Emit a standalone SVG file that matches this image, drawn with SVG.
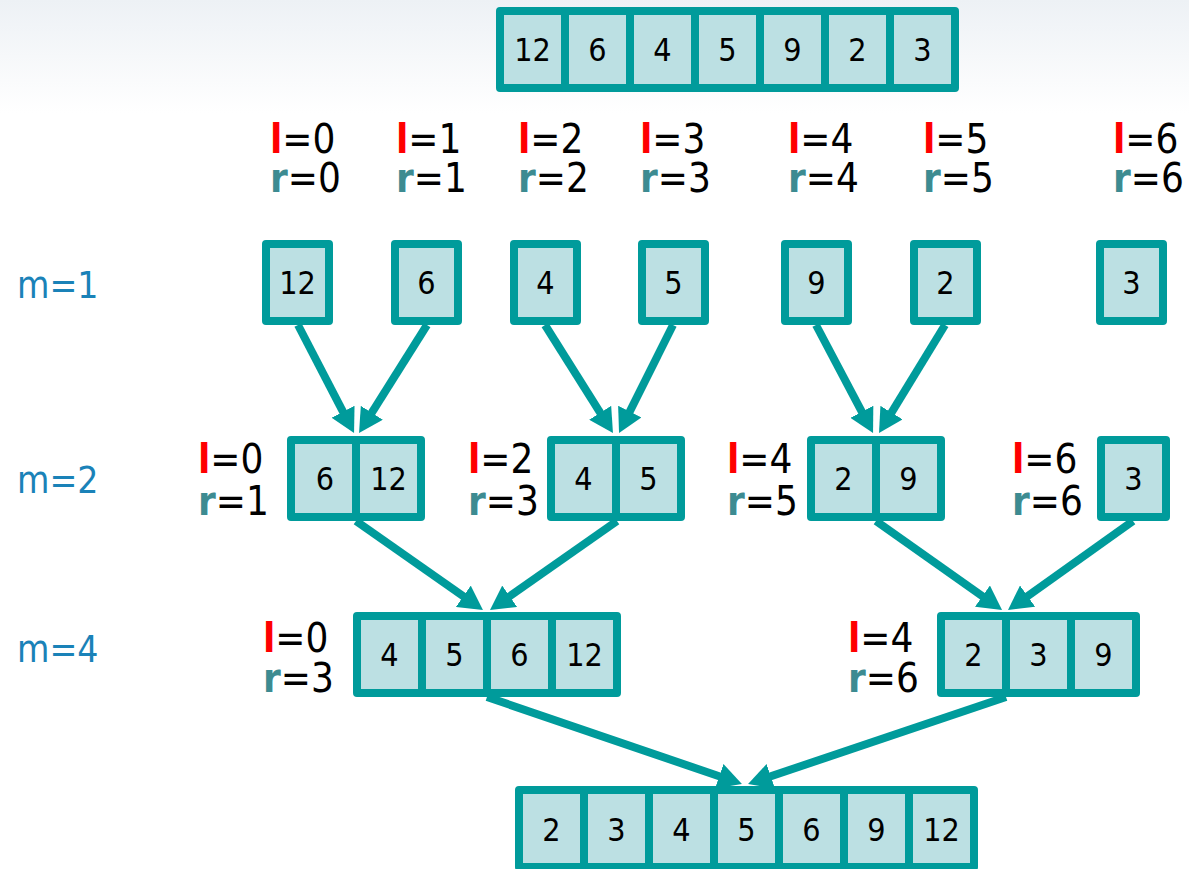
<svg xmlns="http://www.w3.org/2000/svg" width="1189" height="869" viewBox="0 0 1189 869">
<style>
.cell{fill:#bce0e3;stroke:#009b9b;stroke-width:8;stroke-linejoin:round}
.v{font-family:"DejaVu Sans Condensed","DejaVu Sans",sans-serif;font-size:32px;fill:#000;text-anchor:middle}
.lab{font-family:"DejaVu Sans Condensed","DejaVu Sans",sans-serif;font-size:40px;fill:#000}
.l{font-weight:bold;fill:#ff0000}
.r{font-weight:bold;fill:#3d8b91}
.m{font-family:"DejaVu Sans Condensed","DejaVu Sans",sans-serif;font-size:37px;fill:#1a82b8}
.conn line{stroke:#009b9b;stroke-width:8;marker-end:url(#ah)}
</style>
<defs>
<linearGradient id="bg" x1="0" y1="0" x2="0" y2="1">
<stop offset="0" stop-color="#edf1f5"/>
<stop offset="0.13" stop-color="#ffffff"/>
</linearGradient>
<marker id="ah" markerUnits="userSpaceOnUse" markerWidth="26" markerHeight="26" refX="10" refY="13" orient="auto" viewBox="0 0 26 26">
<path d="M0,0 L24,13 L0,26 z" fill="#009b9b"/>
</marker>
</defs>
<rect width="1189" height="869" fill="url(#bg)"/>

<g id="connectors" class="conn">
<line x1="298" y1="325" x2="347.6" y2="420.6"/>
<line x1="427" y1="325" x2="366.5" y2="421.2"/>
<line x1="545" y1="325" x2="605.5" y2="421.2"/>
<line x1="673" y1="325" x2="625.3" y2="420.5"/>
<line x1="816" y1="325" x2="866.5" y2="420.6"/>
<line x1="945" y1="325" x2="886.3" y2="421.1"/>
<line x1="356" y1="521" x2="471.5" y2="602"/>
<line x1="617" y1="521" x2="501.5" y2="602"/>
<line x1="876" y1="521" x2="990.6" y2="601.9"/>
<line x1="1133" y1="521" x2="1019.4" y2="601.9"/>
<line x1="487" y1="697" x2="728.7" y2="779.5"/>
<line x1="1006" y1="697" x2="761.3" y2="779.5"/>
</g>

<g id="input">
<rect class="cell" x="500" y="11" width="65" height="77"/><rect class="cell" x="565" y="11" width="65" height="77"/><rect class="cell" x="630" y="11" width="65" height="77"/><rect class="cell" x="695" y="11" width="65" height="77"/><rect class="cell" x="760" y="11" width="65" height="77"/><rect class="cell" x="825" y="11" width="65" height="77"/><rect class="cell" x="890" y="11" width="65" height="77"/>
<text class="v" x="532.5" y="61">12</text><text class="v" x="597.5" y="61">6</text><text class="v" x="662.5" y="61">4</text><text class="v" x="727.5" y="61">5</text><text class="v" x="792.5" y="61">9</text><text class="v" x="857.5" y="61">2</text><text class="v" x="922.5" y="61">3</text>
</g>

<g id="top-labels">
<text class="lab" x="270" y="153"><tspan class="l">l</tspan>=0</text><text class="lab" x="270" y="192"><tspan class="r">r</tspan>=0</text>
<text class="lab" x="396" y="153"><tspan class="l">l</tspan>=1</text><text class="lab" x="396" y="192"><tspan class="r">r</tspan>=1</text>
<text class="lab" x="518" y="153"><tspan class="l">l</tspan>=2</text><text class="lab" x="518" y="192"><tspan class="r">r</tspan>=2</text>
<text class="lab" x="640" y="153"><tspan class="l">l</tspan>=3</text><text class="lab" x="640" y="192"><tspan class="r">r</tspan>=3</text>
<text class="lab" x="788" y="153"><tspan class="l">l</tspan>=4</text><text class="lab" x="788" y="192"><tspan class="r">r</tspan>=4</text>
<text class="lab" x="923" y="153"><tspan class="l">l</tspan>=5</text><text class="lab" x="923" y="192"><tspan class="r">r</tspan>=5</text>
<text class="lab" x="1113" y="153"><tspan class="l">l</tspan>=6</text><text class="lab" x="1113" y="192"><tspan class="r">r</tspan>=6</text>
</g>

<g id="m-labels">
<text class="m" x="17" y="298">m=1</text>
<text class="m" x="17" y="493">m=2</text>
<text class="m" x="17" y="662">m=4</text>
</g>

<g id="m1-12"><rect class="cell" x="266" y="244" width="63" height="77"/><text class="v" x="297.5" y="294">12</text></g>
<g id="m1-6"><rect class="cell" x="395" y="244" width="63" height="77"/><text class="v" x="426.5" y="294">6</text></g>
<g id="m1-4"><rect class="cell" x="514" y="244" width="63" height="77"/><text class="v" x="545.5" y="294">4</text></g>
<g id="m1-5"><rect class="cell" x="642" y="244" width="63" height="77"/><text class="v" x="673.5" y="294">5</text></g>
<g id="m1-9"><rect class="cell" x="785" y="244" width="63" height="77"/><text class="v" x="816.5" y="294">9</text></g>
<g id="m1-2"><rect class="cell" x="914" y="244" width="63" height="77"/><text class="v" x="945.5" y="294">2</text></g>
<g id="m1-3"><rect class="cell" x="1100" y="244" width="63" height="77"/><text class="v" x="1131.5" y="294">3</text></g>

<g id="m2-a">
<rect class="cell" x="291" y="440" width="65" height="77"/><rect class="cell" x="356" y="440" width="65" height="77"/>
<text class="v" x="325" y="490">6</text><text class="v" x="388.5" y="490">12</text>
<text class="lab" x="198" y="473"><tspan class="l">l</tspan>=0</text><text class="lab" x="198" y="515"><tspan class="r">r</tspan>=1</text>
</g>
<g id="m2-b">
<rect class="cell" x="551" y="440" width="65" height="77"/><rect class="cell" x="616" y="440" width="65" height="77"/>
<text class="v" x="583.5" y="490">4</text><text class="v" x="648.5" y="490">5</text>
<text class="lab" x="468" y="473"><tspan class="l">l</tspan>=2</text><text class="lab" x="468" y="515"><tspan class="r">r</tspan>=3</text>
</g>
<g id="m2-c">
<rect class="cell" x="811" y="440" width="65" height="77"/><rect class="cell" x="876" y="440" width="65" height="77"/>
<text class="v" x="843.5" y="490">2</text><text class="v" x="908.5" y="490">9</text>
<text class="lab" x="727" y="473"><tspan class="l">l</tspan>=4</text><text class="lab" x="727" y="515"><tspan class="r">r</tspan>=5</text>
</g>
<g id="m2-d">
<rect class="cell" x="1101" y="440" width="65" height="77"/>
<text class="v" x="1133.5" y="490">3</text>
<text class="lab" x="1012" y="473"><tspan class="l">l</tspan>=6</text><text class="lab" x="1012" y="515"><tspan class="r">r</tspan>=6</text>
</g>

<g id="m4-a">
<rect class="cell" x="357" y="616" width="65" height="77"/><rect class="cell" x="422" y="616" width="65" height="77"/><rect class="cell" x="487" y="616" width="65" height="77"/><rect class="cell" x="552" y="616" width="65" height="77"/>
<text class="v" x="389.5" y="666">4</text><text class="v" x="454.5" y="666">5</text><text class="v" x="519.5" y="666">6</text><text class="v" x="584.5" y="666">12</text>
<text class="lab" x="263" y="652"><tspan class="l">l</tspan>=0</text><text class="lab" x="263" y="692"><tspan class="r">r</tspan>=3</text>
</g>
<g id="m4-b">
<rect class="cell" x="941" y="616" width="65" height="77"/><rect class="cell" x="1006" y="616" width="65" height="77"/><rect class="cell" x="1071" y="616" width="65" height="77"/>
<text class="v" x="973.5" y="666">2</text><text class="v" x="1038.5" y="666">3</text><text class="v" x="1103.5" y="666">9</text>
<text class="lab" x="848" y="652"><tspan class="l">l</tspan>=4</text><text class="lab" x="848" y="692"><tspan class="r">r</tspan>=6</text>
</g>

<g id="output">
<rect class="cell" x="519" y="790" width="65" height="77"/><rect class="cell" x="584" y="790" width="65" height="77"/><rect class="cell" x="649" y="790" width="65" height="77"/><rect class="cell" x="714" y="790" width="65" height="77"/><rect class="cell" x="779" y="790" width="65" height="77"/><rect class="cell" x="844" y="790" width="65" height="77"/><rect class="cell" x="909" y="790" width="65" height="77"/>
<text class="v" x="551.5" y="841">2</text><text class="v" x="616.5" y="841">3</text><text class="v" x="681.5" y="841">4</text><text class="v" x="746.5" y="841">5</text><text class="v" x="811.5" y="841">6</text><text class="v" x="876.5" y="841">9</text><text class="v" x="941.5" y="841">12</text>
</g>
</svg>
